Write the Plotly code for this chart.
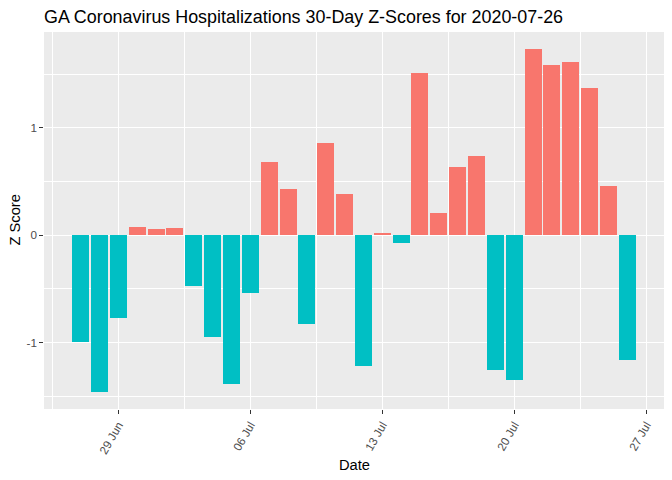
import pandas as pd
import plotly.graph_objects as go

title_text = "GA Coronavirus Hospitalizations 30-Day Z-Scores for 2020-07-26"
dates = pd.date_range("2020-06-27", periods=30, freq="D")
z_scores = [-1.00, -1.46, -0.77, 0.075, 0.056, 0.065, -0.475, -0.95, -1.39, -0.54,
            0.68, 0.43, -0.83, 0.86, 0.38, -1.22, 0.02, -0.075, 1.51, 0.205,
            0.634, 0.736, -1.258, -1.351, 1.733, 1.584, 1.612, 1.37, 0.457, -1.165]
pos_color = "#F8766D"
neg_color = "#00BFC4"

colors = [pos_color if v > 0 else neg_color for v in z_scores]
day_ms = 86400000

fig = go.Figure(go.Bar(
    x=dates, y=z_scores, width=0.9 * day_ms,
    marker=dict(color=colors, line=dict(width=0)),
    showlegend=False,
))

# ggplot-style 5% expansion
x0 = dates[0] - pd.Timedelta(days=0.45)
x1 = dates[-1] + pd.Timedelta(days=0.45)
span = x1 - x0
xr = [x0 - span * 0.05, x1 + span * 0.05]
ymin, ymax = min(z_scores), max(z_scores)
ys = ymax - ymin
yr = [ymin - 0.05 * ys, ymax + 0.05 * ys]

font_family = "Liberation Sans, Arial, sans-serif"

# page body has an 8px margin, so the figure is sized to fit inside it
W, H = 656, 464
fig.update_layout(
    width=W, height=H,
    margin=dict(l=36, r=0, t=24, b=63, autoexpand=False),
    paper_bgcolor="white", plot_bgcolor="#EBEBEB",
    font=dict(family=font_family, color="#4D4D4D"),
    bargap=0,
    title=dict(text=title_text, x=0, xref="paper", xanchor="left",
               y=1 - 8.5 / H, yref="container", yanchor="middle",
               font=dict(size=17.9, color="black", family=font_family)),
    xaxis=dict(
        type="date", range=xr, automargin=False,
        tick0="2020-06-29", dtick=7 * day_ms, tickformat="%d %b",
        tickangle=-60, tickfont=dict(size=11.7, color="#4D4D4D"),
        ticks="outside", ticklen=3.7, tickwidth=1, tickcolor="#333333",
        showgrid=True, gridcolor="white", gridwidth=1.2,
        minor=dict(tick0="2020-06-25 12:00", dtick=3.5 * day_ms, showgrid=True,
                   gridcolor="white", gridwidth=0.6, ticks=""),
        zeroline=False, showline=False, fixedrange=True,
    ),
    yaxis=dict(
        range=yr, automargin=False, tickvals=[-1, 0, 1], ticktext=["-1", "0", "1"],
        tickfont=dict(size=11.7, color="#4D4D4D"),
        ticks="outside", ticklen=3.7, tickwidth=1, tickcolor="#333333",
        showgrid=True, gridcolor="white", gridwidth=1.2,
        minor=dict(tickvals=[-1.5, -0.5, 0.5, 1.5], showgrid=True,
                   gridcolor="white", gridwidth=0.6, ticks=""),
        zeroline=False, showline=False, fixedrange=True,
    ),
    annotations=[
        dict(text="Date", xref="paper", yref="paper", x=0.5, y=-(465 - 409) / 377,
             xanchor="center", yanchor="middle", showarrow=False,
             font=dict(size=14.7, color="black", family=font_family)),
        dict(text="Z Score", xref="paper", yref="paper", x=(14 - 44) / 620, y=0.5,
             xanchor="center", yanchor="middle", textangle=-90, showarrow=False,
             font=dict(size=14.7, color="black", family=font_family)),
    ],
)

fig.write_html("out.html")
